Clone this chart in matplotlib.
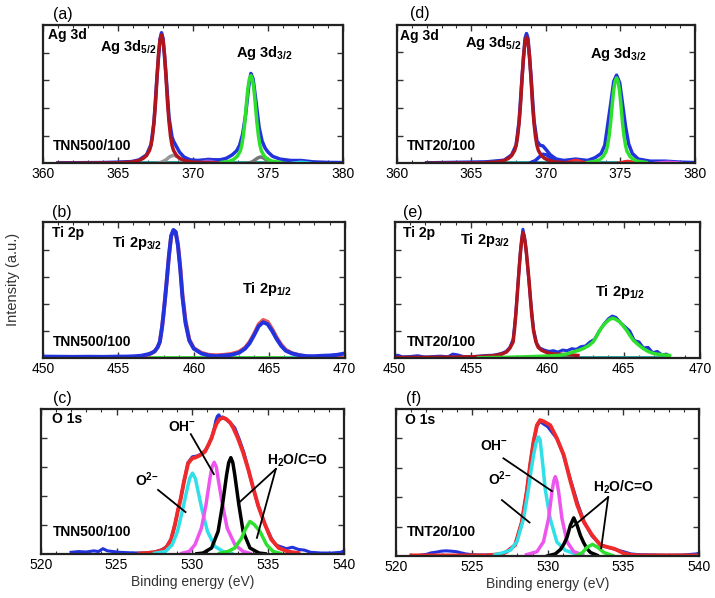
import matplotlib
matplotlib.use("Agg")
import matplotlib.pyplot as plt
from matplotlib.ticker import MultipleLocator

plt.rcParams["font.family"] = ["Liberation Sans", "DejaVu Sans"]
plt.rcParams["mathtext.fontset"] = "custom"
plt.rcParams["mathtext.rm"] = "Liberation Sans"
plt.rcParams["mathtext.bf"] = "Liberation Sans:bold"

# ---- (a) Ag 3d, TNN500/100 ----
a_blue_x = [361.0, 364.0, 365.0, 365.9, 366.4, 366.9, 367.2, 367.4, 367.6, 367.8, 367.9, 368.0, 368.2, 368.4,
            368.6, 368.7, 368.9, 369.1, 369.4, 369.8, 370.3, 370.8, 371.0, 371.4, 371.8, 372.2, 372.6, 372.9,
            373.1, 373.3, 373.5, 373.7, 373.85, 374.0, 374.2, 374.4, 374.6, 374.8, 375.0, 375.3, 375.8, 376.5,
            377.2, 378.0, 379.0, 380.0]
a_blue_y = [0.003, 0.005, 0.008, 0.012, 0.024, 0.06, 0.135, 0.30, 0.63, 0.90, 0.945, 0.905, 0.64, 0.33,
            0.19, 0.16, 0.12, 0.08, 0.045, 0.025, 0.02, 0.025, 0.028, 0.025, 0.025, 0.035, 0.06, 0.09,
            0.13, 0.21, 0.35, 0.55, 0.65, 0.61, 0.44, 0.26, 0.16, 0.11, 0.08, 0.05, 0.03, 0.02,
            0.02, 0.01, 0.006, 0.005]
a_red_x = [361.0, 364.9, 365.9, 366.4, 366.7, 366.9, 367.1, 367.2, 367.3, 367.4, 367.5, 367.6, 367.7, 367.8,
           367.9, 368.0, 368.1, 368.2, 368.3, 368.4, 368.5, 368.6, 368.7, 368.9, 369.1, 369.4, 369.9, 370.9, 372.0]
a_red_y = [0.0, 0.003, 0.009, 0.02, 0.037, 0.056, 0.093, 0.13, 0.195, 0.298, 0.437, 0.623, 0.79, 0.893,
           0.93, 0.893, 0.79, 0.623, 0.437, 0.298, 0.195, 0.13, 0.093, 0.056, 0.037, 0.02, 0.009, 0.003, 0.0]
a_green_x = [371.9, 372.4, 372.7, 372.95, 373.15, 373.25, 373.35, 373.45, 373.55, 373.65, 373.75, 373.85,
             373.95, 374.05, 374.15, 374.25, 374.35, 374.45, 374.55, 374.75, 374.95, 375.25, 375.85]
a_green_y = [0.006, 0.014, 0.027, 0.051, 0.089, 0.133, 0.203, 0.298, 0.425, 0.54, 0.61, 0.635,
             0.61, 0.54, 0.425, 0.298, 0.203, 0.133, 0.089, 0.051, 0.03, 0.016, 0.006]
a_gray1_x = [367.6, 367.9, 368.2, 368.45, 368.7, 368.95, 369.2, 369.5, 369.8]
a_gray1_y = [0.0, 0.008, 0.025, 0.048, 0.058, 0.048, 0.025, 0.008, 0.0]
a_gray2_x = [373.6, 373.9, 374.1, 374.3, 374.5, 374.7, 374.9, 375.1, 375.4]
a_gray2_y = [0.0, 0.008, 0.022, 0.038, 0.046, 0.038, 0.022, 0.008, 0.0]
a_purple_x = [370.0, 370.5, 370.8, 371.0, 371.2, 371.5, 372.0]
a_purple_y = [0.0, 0.01, 0.018, 0.02, 0.018, 0.01, 0.0]
a_cyan_x = [376.3, 376.8, 377.2, 377.6, 378.1]
a_cyan_y = [0.0, 0.008, 0.012, 0.008, 0.0]

# ---- (d) Ag 3d, TNT20/100 ----
d_blue_x = [362.0, 366.0, 367.2, 367.7, 368.0, 368.2, 368.4, 368.6, 368.7, 368.8, 369.0, 369.2, 369.4, 369.6,
            369.8, 370.0, 370.3, 370.7, 371.2, 372.0, 372.8, 373.3, 373.7, 373.95, 374.15, 374.35, 374.55,
            374.74, 374.95, 375.15, 375.35, 375.55, 375.8, 376.2, 377.0, 378.0, 379.0, 380.0]
d_blue_y = [0.003, 0.01, 0.022, 0.06, 0.13, 0.3, 0.62, 0.9, 0.935, 0.9, 0.63, 0.31, 0.16, 0.13,
            0.125, 0.1, 0.06, 0.03, 0.02, 0.03, 0.02, 0.04, 0.07, 0.13, 0.28, 0.43, 0.59,
            0.635, 0.58, 0.42, 0.26, 0.14, 0.07, 0.03, 0.015, 0.015, 0.008, 0.005]
d_red_x = [362.0, 365.7, 366.7, 367.2, 367.5, 367.7, 367.9, 368.0, 368.1, 368.2, 368.3, 368.4, 368.5, 368.6,
           368.7, 368.8, 368.9, 369.0, 369.1, 369.2, 369.3, 369.4, 369.5, 369.7, 369.9, 370.2, 370.7, 371.5, 372.5]
d_red_y = [0.0, 0.003, 0.009, 0.02, 0.036, 0.055, 0.091, 0.127, 0.191, 0.291, 0.428, 0.61, 0.774, 0.874,
           0.91, 0.874, 0.774, 0.61, 0.428, 0.291, 0.191, 0.127, 0.091, 0.055, 0.036, 0.02, 0.009, 0.003, 0.0]
d_red2_x = [371.0, 371.5, 371.8, 372.0, 372.2, 372.5, 373.0]
d_red2_y = [0.0, 0.012, 0.022, 0.025, 0.022, 0.012, 0.0]
d_red3_x = [374.6, 375.0, 375.3, 375.5, 375.7, 376.0, 376.5]
d_red3_y = [0.0, 0.008, 0.016, 0.018, 0.016, 0.008, 0.0]
d_bump_x = [368.9, 369.3, 369.55, 369.8, 370.05, 370.3, 370.7, 371.2]
d_bump_y = [0.0, 0.02, 0.045, 0.065, 0.06, 0.04, 0.015, 0.0]
d_green_x = [372.8, 373.3, 373.6, 373.84, 374.04, 374.14, 374.24, 374.34, 374.44, 374.54, 374.64, 374.74,
             374.84, 374.94, 375.04, 375.14, 375.24, 375.34, 375.44, 375.64, 375.84, 376.14, 376.74]
d_green_y = [0.006, 0.014, 0.025, 0.049, 0.086, 0.129, 0.197, 0.289, 0.412, 0.523, 0.59, 0.615,
             0.59, 0.523, 0.412, 0.289, 0.197, 0.129, 0.086, 0.049, 0.03, 0.015, 0.006]
d_cyan_x = [371.0, 371.5, 372.0, 372.5, 373.0]
d_cyan_y = [0.0, 0.008, 0.012, 0.008, 0.0]
d_mag_x = [377.0, 377.6, 378.2, 378.8, 379.4]
d_mag_y = [0.0, 0.008, 0.012, 0.008, 0.0]

# ---- (b) Ti 2p, TNN500/100 ----
b_blue_x = [450.0, 451.0, 452.0, 453.0, 454.0, 455.0, 455.5, 456.0, 456.5, 457.0, 457.2, 457.4, 457.6, 457.75,
            457.9, 458.0, 458.1, 458.2, 458.35, 458.5, 458.65, 458.8, 458.95, 459.1, 459.25, 459.45, 459.7,
            460.0, 460.5, 461.0, 461.5, 462.0, 462.5, 463.0, 463.4, 463.7, 464.0, 464.3, 464.6, 464.9, 465.2,
            465.5, 465.8, 466.1, 466.5, 467.0, 467.5, 468.0, 468.5, 469.0, 469.5, 470.0]
b_blue_y = [0.012, 0.011, 0.01, 0.011, 0.01, 0.012, 0.012, 0.014, 0.018, 0.03, 0.038, 0.05, 0.08, 0.12,
            0.23, 0.33, 0.44, 0.56, 0.75, 0.9, 0.945, 0.93, 0.83, 0.66, 0.45, 0.26, 0.13,
            0.07, 0.035, 0.02, 0.015, 0.02, 0.025, 0.04, 0.07, 0.11, 0.17, 0.235, 0.265, 0.25, 0.2,
            0.14, 0.09, 0.055, 0.035, 0.022, 0.015, 0.015, 0.018, 0.02, 0.025, 0.035]
b_red_x = [456.0, 456.5, 457.0, 457.4, 457.6, 457.75, 457.9, 458.0, 458.2, 458.35, 458.5, 458.65, 458.8, 458.95,
           459.1, 459.25, 459.45, 459.7, 460.0, 460.5, 461.0, 461.5, 462.0, 462.5, 463.0, 463.4, 463.7, 464.0,
           464.3, 464.6, 464.9, 465.2, 465.5, 465.8, 466.1, 466.5, 467.0, 467.5, 468.0, 469.0, 470.0]
b_red_y = [0.006, 0.012, 0.025, 0.05, 0.08, 0.12, 0.23, 0.33, 0.56, 0.75, 0.9, 0.94, 0.93, 0.84,
           0.68, 0.47, 0.28, 0.14, 0.075, 0.04, 0.025, 0.022, 0.025, 0.032, 0.048, 0.078, 0.12, 0.18,
           0.25, 0.282, 0.268, 0.215, 0.152, 0.1, 0.062, 0.038, 0.022, 0.012, 0.008, 0.004, 0.002]

# ---- (e) Ti 2p, TNT20/100 ----
e_blue_x = [450.0, 450.2, 450.5, 451.0, 451.5, 452.0, 452.5, 453.0, 453.5, 453.8, 454.1, 454.5, 455.0, 455.5,
            456.0, 456.5, 457.0, 457.3, 457.55, 457.76, 457.93, 458.09, 458.24, 458.4, 458.55, 458.72, 458.9,
            459.1, 459.3, 459.5, 459.8, 460.1, 460.4, 460.7, 461.0, 461.3, 461.6, 461.9, 462.2, 462.5, 462.8,
            463.1, 463.4, 463.7, 464.0, 464.25, 464.5, 464.8, 465.1, 465.4, 465.7, 466.0, 466.3, 466.6, 466.9,
            467.2, 467.5, 467.8, 468.0]
e_blue_y = [0.015, 0.022, 0.01, 0.012, 0.018, 0.008, 0.012, 0.015, 0.01, 0.03, 0.025, 0.012, 0.01, 0.015,
            0.02, 0.022, 0.035, 0.05, 0.08, 0.14, 0.32, 0.57, 0.79, 0.95, 0.86, 0.66, 0.43,
            0.21, 0.11, 0.075, 0.06, 0.05, 0.055, 0.045, 0.06, 0.055, 0.07, 0.065, 0.085, 0.09, 0.12,
            0.14, 0.2, 0.25, 0.29, 0.31, 0.3, 0.26, 0.23, 0.2, 0.13, 0.12, 0.075, 0.08, 0.04,
            0.05, 0.025, 0.03, 0.015]
e_red_x = [450.0, 452.0, 454.0, 455.5, 456.2, 456.67, 457.0, 457.33, 457.55, 457.76, 457.85, 457.93, 458.0,
           458.09, 458.16, 458.24, 458.32, 458.4, 458.48, 458.55, 458.63, 458.72, 458.81, 458.9, 458.98,
           459.1, 459.25, 459.4, 459.62, 459.9, 460.16, 460.6, 461.0, 461.5, 462.0]
e_red_y = [0.005, 0.006, 0.008, 0.012, 0.016, 0.022, 0.03, 0.046, 0.075, 0.12, 0.21, 0.316, 0.42,
           0.56, 0.67, 0.78, 0.87, 0.925, 0.9, 0.85, 0.78, 0.67, 0.56, 0.43, 0.316,
           0.2, 0.12, 0.08, 0.059, 0.045, 0.035, 0.03, 0.028, 0.025, 0.02]
e_green_x = [455.5, 457.0, 458.5, 459.5, 460.2, 460.82, 461.3, 461.7, 462.05, 462.35, 462.7, 463.0, 463.22,
             463.44, 463.66, 463.88, 464.07, 464.27, 464.47, 464.75, 464.97, 465.19, 465.41, 465.63, 465.95,
             466.28, 466.6, 466.94, 467.3, 467.8, 468.0]
e_green_y = [0.003, 0.006, 0.01, 0.014, 0.017, 0.022, 0.032, 0.046, 0.058, 0.071, 0.092, 0.12, 0.16,
             0.206, 0.24, 0.267, 0.285, 0.295, 0.287, 0.267, 0.238, 0.206, 0.168, 0.132, 0.1,
             0.071, 0.05, 0.035, 0.028, 0.022, 0.02]

# ---- (c) O 1s, TNN500/100 ----
c_blue_x = [522.0, 522.5, 523.0, 523.5, 523.8, 524.1, 524.4, 524.8, 525.2, 525.6, 526.0, 526.5, 527.0, 527.5,
            528.0, 528.3, 528.6, 528.85, 529.05, 529.24, 529.45, 529.72, 530.0, 530.3, 530.6, 530.9, 531.1,
            531.3, 531.45, 531.55, 531.65, 531.75, 531.85, 532.0, 532.2, 532.5, 532.8, 533.1, 533.4, 533.7,
            534.0, 534.35, 534.8, 535.2, 535.5, 535.8, 536.2, 536.6, 537.0, 537.4, 537.8, 538.5, 539.2,
            539.8, 540.0]
c_blue_y = [0.01, 0.015, 0.012, 0.02, 0.015, 0.035, 0.02, 0.015, 0.01, 0.008, 0.006, 0.005, 0.006, 0.012,
            0.028, 0.05, 0.1, 0.2, 0.3, 0.385, 0.5, 0.63, 0.67, 0.675, 0.69, 0.72, 0.76,
            0.81, 0.87, 0.92, 0.95, 0.96, 0.94, 0.945, 0.93, 0.905, 0.87, 0.79, 0.7, 0.58,
            0.46, 0.33, 0.2, 0.11, 0.06, 0.05, 0.035, 0.045, 0.03, 0.025, 0.01, 0.005, 0.005,
            0.01, 0.02]
c_red_x = [526.5, 527.0, 527.6, 528.0, 528.3, 528.6, 528.85, 529.05, 529.24, 529.45, 529.72, 530.0, 530.2,
           530.5, 530.83, 531.05, 531.27, 531.45, 531.6, 531.8, 532.03, 532.25, 532.5, 532.7, 533.0, 533.35,
           533.7, 534.0, 534.35, 534.8, 535.2, 535.7, 536.3, 537.0]
c_red_y = [0.002, 0.005, 0.012, 0.025, 0.045, 0.1, 0.2, 0.3, 0.384, 0.5, 0.625, 0.66, 0.665,
           0.68, 0.705, 0.75, 0.8, 0.86, 0.9, 0.93, 0.94, 0.93, 0.905, 0.87, 0.8, 0.7,
           0.58, 0.46, 0.33, 0.2, 0.1, 0.04, 0.015, 0.005]
c_cyan_x = [527.5, 528.23, 528.67, 529.02, 529.33, 529.62, 529.82, 530.01, 530.2, 530.38, 530.67, 531.0,
            531.49, 532.03, 532.6]
c_cyan_y = [0.003, 0.016, 0.062, 0.154, 0.29, 0.43, 0.52, 0.557, 0.52, 0.43, 0.29, 0.154, 0.05, 0.016, 0.003]
c_mag_x = [529.3, 529.8, 530.17, 530.6, 530.9, 531.16, 531.3, 531.44, 531.58, 531.7, 531.99, 532.3, 532.81,
           533.35, 533.8]
c_mag_y = [0.003, 0.016, 0.062, 0.177, 0.338, 0.52, 0.6, 0.632, 0.6, 0.52, 0.338, 0.177, 0.062, 0.016, 0.003]
c_black_x = [530.3, 530.71, 531.27, 531.7, 531.99, 532.26, 532.4, 532.54, 532.67, 532.8, 533.07, 533.35,
             533.8, 534.4, 534.8]
c_black_y = [0.0, 0.005, 0.04, 0.154, 0.338, 0.545, 0.63, 0.664, 0.63, 0.545, 0.338, 0.154, 0.04, 0.005, 0.0]
c_green_x = [531.8, 532.36, 532.8, 533.25, 533.5, 533.8, 534.1, 534.46, 534.9, 535.33, 535.8]
c_green_y = [0.003, 0.016, 0.04, 0.108, 0.17, 0.223, 0.2, 0.154, 0.062, 0.016, 0.003]

# ---- (f) O 1s, TNT20/100 ----
f_blue_x = [521.5, 522.0, 522.3, 522.7, 523.0, 523.3, 523.6, 524.0, 524.3, 524.6, 525.0, 525.5, 526.0, 526.5,
            527.0, 527.3, 527.85, 528.29, 528.62, 528.84, 529.07, 529.29, 529.5, 529.7, 530.0, 530.3, 530.6,
            531.0, 531.5, 532.0, 532.4, 532.9, 533.5, 534.0, 534.5, 535.0, 535.5, 536.0, 537.0, 538.0, 539.0,
            539.8, 540.0]
f_blue_y = [0.005, 0.012, 0.022, 0.028, 0.034, 0.036, 0.034, 0.03, 0.022, 0.015, 0.01, 0.008, 0.008, 0.01,
            0.015, 0.03, 0.075, 0.23, 0.44, 0.62, 0.78, 0.885, 0.915, 0.9, 0.88, 0.84, 0.80,
            0.7, 0.52, 0.35, 0.235, 0.14, 0.075, 0.06, 0.045, 0.03, 0.015, 0.01, 0.008, 0.006, 0.008,
            0.015, 0.02]
f_red_x = [521.0, 526.0, 527.0, 527.3, 527.85, 528.29, 528.62, 528.84, 529.07, 529.29, 529.5, 529.75, 530.17,
           530.61, 531.06, 531.5, 531.94, 532.38, 532.93, 533.48, 534.0, 534.4, 535.0, 535.5, 536.0, 540.0]
f_red_y = [0.005, 0.005, 0.015, 0.03, 0.075, 0.23, 0.44, 0.62, 0.78, 0.89, 0.925, 0.915, 0.89,
           0.80, 0.687, 0.51, 0.35, 0.233, 0.143, 0.075, 0.06, 0.05, 0.02, 0.008, 0.005, 0.005]
f_cyan_x = [526.5, 527.09, 527.53, 527.97, 528.41, 528.74, 528.9, 529.07, 529.23, 529.39, 529.5, 529.61,
            529.72, 529.83, 530.16, 530.6, 531.15, 531.7, 532.3]
f_cyan_y = [0.008, 0.025, 0.04, 0.097, 0.256, 0.46, 0.58, 0.687, 0.77, 0.81, 0.79, 0.687,
            0.58, 0.46, 0.256, 0.097, 0.04, 0.02, 0.008]
f_mag_x = [528.6, 529.29, 529.72, 530.06, 530.28, 530.4, 530.5, 530.6, 530.72, 530.94, 531.28, 531.72, 532.3]
f_mag_y = [0.01, 0.03, 0.097, 0.256, 0.437, 0.51, 0.54, 0.51, 0.437, 0.256, 0.097, 0.03, 0.01]
f_black_x = [530.0, 530.5, 530.84, 531.06, 531.28, 531.5, 531.72, 531.94, 532.16, 532.38, 532.6, 532.82, 533.26]
f_black_y = [0.002, 0.015, 0.045, 0.08, 0.13, 0.21, 0.26, 0.21, 0.14, 0.09, 0.05, 0.025, 0.006]
f_green_x = [531.9, 532.3, 532.6, 532.95, 533.3, 533.7, 534.3]
f_green_y = [0.003, 0.025, 0.06, 0.08, 0.06, 0.025, 0.003]

BLUE = "#2233dd"
DKRED = "#b0141c"
RED = "#f02a2a"
LTRED = "#e8585a"
GREEN = "#2ee02e"
CYAN = "#30e0e8"
MAGENTA = "#ee55ee"
TEAL = "#1fa5a5"
LW = 2.5

fig = plt.figure(figsize=(7.15, 5.98), dpi=100)


def setup(rect, xlim, letter, letter_xy):
    ax = fig.add_axes(rect)
    ax.set_xlim(*xlim)
    ax.set_ylim(0, 1)
    ax.xaxis.set_major_locator(MultipleLocator(5))
    ax.xaxis.set_minor_locator(MultipleLocator(1))
    ax.set_yticks([0.2, 0.4, 0.6, 0.8])
    ax.set_yticklabels([])
    ax.tick_params(which="both", direction="in", top=True, right=True, labelsize=10, pad=3,
                   color="#333333")
    ax.tick_params(which="major", length=4, width=1)
    ax.tick_params(which="minor", length=2.5, width=0.8)
    for sp in ax.spines.values():
        sp.set_linewidth(1.6)
        sp.set_color("#222222")
    fig.text(letter_xy[0], letter_xy[1], letter, fontsize=11.5, ha="center", va="center")
    return ax


def label(ax, x, y, s, size=10):
    ax.text(x, y, s, fontsize=size, fontweight="bold", ha="left", va="center")


# (a)
ax = setup([0.060, 0.727, 0.420, 0.231], (360, 380), "(a)", (0.088, 0.975))
ax.plot([361.4, 380], [0.006, 0.006], color=TEAL, lw=2)
ax.plot(a_blue_x, a_blue_y, color=BLUE, lw=LW)
ax.plot(a_gray1_x, a_gray1_y, color="#999999", lw=LW)
ax.plot(a_gray2_x, a_gray2_y, color="#777777", lw=LW)
ax.plot(a_purple_x, a_purple_y, color="#9955cc", lw=1.5)
ax.plot(a_cyan_x, a_cyan_y, color=CYAN, lw=1.5)
ax.plot(a_red_x, a_red_y, color=DKRED, lw=LW)
ax.plot(a_green_x, a_green_y, color=GREEN, lw=LW)
label(ax, 360.33, 0.928, "Ag 3d")
label(ax, 363.8, 0.84, "Ag 3d$_{\\mathbf{5/2}}$", 10.5)
label(ax, 372.87, 0.80, "Ag 3d$_{\\mathbf{3/2}}$", 10.5)
label(ax, 360.67, 0.123, "TNN500/100")

# (d)
ax = setup([0.555, 0.727, 0.417, 0.232], (360, 380), "(d)", (0.587, 0.977))
ax.plot([362.0, 380], [0.006, 0.006], color=TEAL, lw=2)
ax.plot(d_blue_x, d_blue_y, color=BLUE, lw=LW)
ax.plot(d_bump_x, d_bump_y, color=BLUE, lw=LW)
ax.plot(d_cyan_x, d_cyan_y, color=CYAN, lw=1.5)
ax.plot(d_mag_x, d_mag_y, color=MAGENTA, lw=1.5)
ax.plot(d_red2_x, d_red2_y, color=RED, lw=1.5)
ax.plot(d_red3_x, d_red3_y, color=RED, lw=1.5)
ax.plot(d_red_x, d_red_y, color=DKRED, lw=LW)
ax.plot(d_green_x, d_green_y, color=GREEN, lw=LW)
label(ax, 360.2, 0.92, "Ag 3d")
label(ax, 364.56, 0.87, "Ag 3d$_{\\mathbf{5/2}}$", 10.5)
label(ax, 372.95, 0.79, "Ag 3d$_{\\mathbf{3/2}}$", 10.5)
label(ax, 360.67, 0.122, "TNT20/100")

# (b)
ax = setup([0.060, 0.401, 0.422, 0.227], (450, 470), "(b)", (0.087, 0.645))
ax.plot([456.3, 470], [0.006, 0.006], color=GREEN, lw=2)
ax.plot([466.0, 470], [0.004, 0.01], color=CYAN, lw=1.5)
ax.plot(b_red_x, b_red_y, color=LTRED, lw=2.8)
ax.plot(b_blue_x, b_blue_y, color=BLUE, lw=2.8)
label(ax, 450.6, 0.926, "Ti 2p")
label(ax, 454.57, 0.846, "Ti 2p$_{\\mathbf{3/2}}$", 10.5)
label(ax, 463.18, 0.507, "Ti 2p$_{\\mathbf{1/2}}$", 10.5)
label(ax, 450.66, 0.118, "TNN500/100")
fig.text(0.0175, 0.532, "Intensity (a.u.)", rotation=90, fontsize=10.5, ha="center", va="center",
         color="#333333")

# (e)
ax = setup([0.552, 0.401, 0.427, 0.227], (450, 470), "(e)", (0.578, 0.645))
ax.plot([450.0, 468], [0.006, 0.006], color=TEAL, lw=2)
ax.plot(e_blue_x, e_blue_y, color=BLUE, lw=2.2)
ax.plot(e_red_x, e_red_y, color=DKRED, lw=LW)
ax.plot(e_green_x, e_green_y, color=GREEN, lw=LW)
label(ax, 450.52, 0.919, "Ti 2p")
label(ax, 454.26, 0.868, "Ti 2p$_{\\mathbf{3/2}}$", 10.5)
label(ax, 463.11, 0.485, "Ti 2p$_{\\mathbf{1/2}}$", 10.5)
label(ax, 450.79, 0.118, "TNT20/100")

# (c)
ax = setup([0.057, 0.074, 0.424, 0.242], (520, 540), "(c)", (0.087, 0.333))
ax.plot(c_blue_x, c_blue_y, color=BLUE, lw=2.2)
ax.plot(c_red_x, c_red_y, color=RED, lw=2.8)
ax.plot(c_cyan_x, c_cyan_y, color=CYAN, lw=LW)
ax.plot(c_mag_x, c_mag_y, color=MAGENTA, lw=LW)
ax.plot(c_black_x, c_black_y, color="black", lw=LW)
ax.plot(c_green_x, c_green_y, color=GREEN, lw=LW)
ax.plot([527.74, 529.55], [0.441, 0.288], color="black", lw=1.3)
ax.plot([529.9, 531.42], [0.826, 0.55], color="black", lw=1.3)
ax.plot([535.51, 533.14], [0.586, 0.359], color="black", lw=1.3)
ax.plot([535.51, 534.26], [0.586, 0.11], color="black", lw=1.3)
label(ax, 520.73, 0.93, "O 1s")
label(ax, 528.38, 0.876, "OH$^{\\mathbf{-}}$")
label(ax, 526.2, 0.51, "O$^{\\mathbf{2{-}}}$")
label(ax, 534.92, 0.648, "H$_{\\mathbf{2}}$O/C=O")
label(ax, 520.8, 0.152, "TNN500/100")
ax.set_xlabel("Binding energy (eV)", fontsize=10, labelpad=2, color="#333333")

# (f)
ax = setup([0.554, 0.070, 0.424, 0.246], (520, 540), "(f)", (0.579, 0.333))
ax.plot(f_blue_x, f_blue_y, color=BLUE, lw=2.2)
ax.plot(f_red_x, f_red_y, color=RED, lw=2.8)
ax.plot(f_cyan_x, f_cyan_y, color=CYAN, lw=LW)
ax.plot(f_mag_x, f_mag_y, color=MAGENTA, lw=LW)
ax.plot(f_black_x, f_black_y, color="black", lw=LW)
ax.plot(f_green_x, f_green_y, color=GREEN, lw=LW)
ax.plot([527.08, 530.28], [0.665, 0.442], color="black", lw=1.3)
ax.plot([526.98, 528.8], [0.381, 0.229], color="black", lw=1.3)
ax.plot([533.99, 531.62], [0.401, 0.197], color="black", lw=1.3)
ax.plot([533.99, 533.53], [0.401, 0.054], color="black", lw=1.3)
label(ax, 520.6, 0.925, "O 1s")
label(ax, 525.54, 0.748, "OH$^{\\mathbf{-}}$")
label(ax, 526.07, 0.524, "O$^{\\mathbf{2{-}}}$")
label(ax, 533.0, 0.469, "H$_{\\mathbf{2}}$O/C=O")
label(ax, 520.73, 0.163, "TNT20/100")
ax.set_xlabel("Binding energy (eV)", fontsize=10, labelpad=2, color="#333333")

fig.savefig("out.png", dpi=100)
